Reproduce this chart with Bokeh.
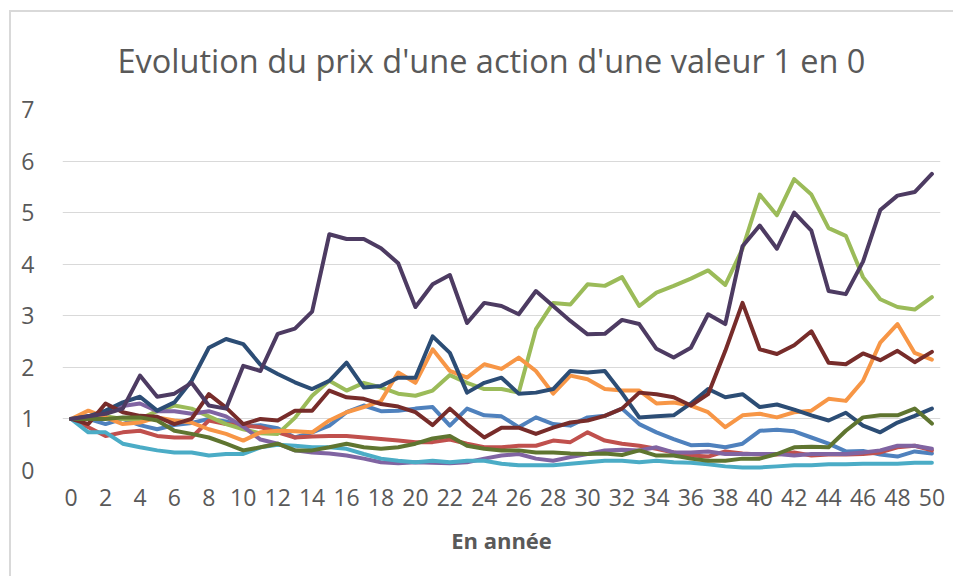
from bokeh.plotting import figure
from bokeh.embed import file_html
from bokeh.resources import INLINE
from bokeh.models import FixedTicker, Range1d

title_text = "Evolution du prix d'une action d'une valeur 1 en 0"
x_label = "En année"
years = list(range(0, 51))
x_ticks = list(range(0, 51, 2))
y_ticks = list(range(0, 8))

s_blue = [1.0, 1.0, 0.9, 1.0, 0.88, 0.8, 0.88, 0.92, 1.0, 0.95, 0.85,
          0.88, 0.82, 0.64, 0.74, 0.87, 1.13, 1.26, 1.15, 1.16, 1.2,
          1.23, 0.87, 1.2, 1.07, 1.05, 0.84, 1.03, 0.9, 0.87, 1.03,
          1.06, 1.2, 0.9, 0.74, 0.61, 0.49, 0.5, 0.45, 0.52, 0.77,
          0.79, 0.76, 0.64, 0.52, 0.37, 0.38, 0.31, 0.27, 0.37, 0.33]
s_red = [1.0, 0.84, 0.67, 0.74, 0.77, 0.67, 0.64, 0.64, 0.97, 0.9, 0.87,
         0.84, 0.74, 0.64, 0.66, 0.67, 0.67, 0.64, 0.61, 0.58, 0.55,
         0.55, 0.6, 0.52, 0.45, 0.45, 0.48, 0.48, 0.58, 0.55, 0.74,
         0.58, 0.52, 0.48, 0.42, 0.35, 0.29, 0.27, 0.37, 0.33, 0.31,
         0.31, 0.35, 0.29, 0.31, 0.31, 0.32, 0.35, 0.45, 0.48, 0.39]
s_green = [1.0, 1.0, 1.05, 1.0, 1.0, 1.15, 1.26, 1.2, 1.05, 0.9, 0.8,
           0.72, 0.71, 1.02, 1.45, 1.74, 1.55, 1.7, 1.61, 1.49, 1.45,
           1.55, 1.85, 1.7, 1.58, 1.58, 1.51, 2.74, 3.25, 3.22, 3.61,
           3.58, 3.75, 3.19, 3.45, 3.58, 3.72, 3.88, 3.6, 4.3, 5.35,
           4.95, 5.65, 5.35, 4.7, 4.55, 3.75, 3.32, 3.17, 3.12, 3.36]
s_purple = [1.0, 1.05, 1.1, 1.25, 1.3, 1.15, 1.15, 1.1, 1.15, 1.05, 0.85,
            0.6, 0.52, 0.39, 0.35, 0.33, 0.29, 0.23, 0.16, 0.14, 0.16,
            0.15, 0.14, 0.16, 0.23, 0.29, 0.32, 0.23, 0.19, 0.26, 0.32,
            0.39, 0.4, 0.39, 0.45, 0.35, 0.35, 0.37, 0.32, 0.32, 0.32,
            0.32, 0.29, 0.32, 0.32, 0.32, 0.35, 0.39, 0.48, 0.48, 0.42]
s_aqua = [1.0, 0.74, 0.74, 0.52, 0.45, 0.39, 0.35, 0.35, 0.29, 0.32, 0.32,
          0.45, 0.5, 0.48, 0.45, 0.45, 0.42, 0.32, 0.23, 0.19, 0.16,
          0.19, 0.16, 0.19, 0.19, 0.13, 0.1, 0.1, 0.1, 0.13, 0.16,
          0.19, 0.19, 0.16, 0.19, 0.16, 0.15, 0.12, 0.08, 0.06, 0.06,
          0.08, 0.1, 0.1, 0.12, 0.12, 0.13, 0.13, 0.13, 0.15, 0.15]
s_orange = [1.0, 1.16, 1.03, 0.9, 0.93, 1.03, 0.97, 0.93, 0.8, 0.71, 0.58,
            0.74, 0.77, 0.76, 0.74, 0.97, 1.13, 1.23, 1.35, 1.9, 1.7,
            2.35, 1.93, 1.8, 2.06, 1.97, 2.19, 1.93, 1.49, 1.84, 1.77,
            1.58, 1.55, 1.55, 1.3, 1.32, 1.26, 1.13, 0.84, 1.07, 1.1,
            1.03, 1.13, 1.16, 1.39, 1.35, 1.74, 2.48, 2.84, 2.28, 2.15]
s_dark_blue = [1.0, 1.05, 1.16, 1.32, 1.43, 1.16, 1.32, 1.74, 2.38, 2.55, 2.45,
               2.05, 1.87, 1.71, 1.58, 1.74, 2.09, 1.61, 1.64, 1.8, 1.8,
               2.6, 2.28, 1.51, 1.7, 1.8, 1.49, 1.51, 1.58, 1.93, 1.9,
               1.93, 1.5, 1.03, 1.05, 1.07, 1.3, 1.58, 1.42, 1.48, 1.23,
               1.28, 1.18, 1.07, 0.97, 1.12, 0.87, 0.74, 0.93, 1.06, 1.2]
s_dark_red = [1.0, 0.9, 1.3, 1.13, 1.06, 1.04, 0.9, 1.0, 1.48, 1.22, 0.9,
              1.0, 0.97, 1.16, 1.16, 1.55, 1.42, 1.39, 1.29, 1.24, 1.13,
              0.88, 1.2, 0.9, 0.64, 0.83, 0.83, 0.71, 0.83, 0.93, 0.97,
              1.06, 1.2, 1.51, 1.48, 1.42, 1.26, 1.48, 2.32, 3.25, 2.35,
              2.26, 2.43, 2.7, 2.09, 2.06, 2.27, 2.14, 2.32, 2.1, 2.3]
s_dark_green = [1.0, 1.0, 1.0, 1.03, 1.03, 0.97, 0.77, 0.71, 0.64, 0.52, 0.39,
                0.45, 0.52, 0.39, 0.39, 0.45, 0.52, 0.45, 0.42, 0.45, 0.52,
                0.62, 0.67, 0.48, 0.42, 0.39, 0.39, 0.35, 0.35, 0.33, 0.32,
                0.33, 0.3, 0.39, 0.29, 0.29, 0.23, 0.19, 0.19, 0.23, 0.23,
                0.32, 0.45, 0.46, 0.45, 0.77, 1.03, 1.07, 1.07, 1.2, 0.91]
s_dark_purple = [1.0, 1.05, 1.1, 1.2, 1.84, 1.43, 1.49, 1.7, 1.26, 1.2, 2.03,
                 1.93, 2.65, 2.75, 3.08, 4.58, 4.49, 4.49, 4.31, 4.02, 3.17,
                 3.61, 3.79, 2.86, 3.25, 3.19, 3.03, 3.48, 3.19, 2.9, 2.64,
                 2.65, 2.92, 2.84, 2.36, 2.19, 2.38, 3.03, 2.84, 4.35, 4.75,
                 4.3, 5.0, 4.65, 3.48, 3.42, 4.05, 5.05, 5.33, 5.4, 5.75]

series = [s_blue, s_red, s_green, s_purple, s_aqua, s_orange,
          s_dark_blue, s_dark_red, s_dark_green, s_dark_purple]
colors = ["#4F81BD", "#C0504D", "#9BBB59", "#8064A2", "#4BACC6", "#F79646",
          "#2C4D75", "#772C2A", "#5F7530", "#4D3B62"]

FONT = "Open Sans"
TXT = "#595959"

p = figure(width=944, height=566, output_backend="svg", toolbar_location=None,
           x_range=Range1d(-0.5, 50.5), y_range=Range1d(0, 7),
           min_border_left=51, min_border_right=15, min_border_top=96,
           min_border_bottom=108)
p.styles = {"border-left": "2px solid #D9D9D9", "border-top": "2px solid #D9D9D9",
            "margin-left": "9px", "margin-top": "10px"}
p.outline_line_color = None
p.background_fill_color = "white"
p.border_fill_color = "white"

p.title.text = title_text
p.title.align = "left"
p.title.offset = 55
p.title.standoff = 50
p.title.vertical_align = "top"
p.title.text_font = FONT
p.title.text_font_size = "32.5px"
p.title.text_font_style = "normal"
p.title.text_color = TXT

for ys, c in zip(series, colors):
    p.line(years, ys, line_color=c, line_width=4, line_join="round", line_cap="round")

p.xgrid.visible = False
p.ygrid.grid_line_color = "#D9D9D9"
p.ygrid.grid_line_width = 1
p.ygrid.ticker = FixedTicker(ticks=y_ticks)

p.xaxis.ticker = FixedTicker(ticks=x_ticks)
p.yaxis.ticker = FixedTicker(ticks=y_ticks)
for ax in (p.xaxis, p.yaxis):
    ax.axis_line_color = None
    ax.major_tick_line_color = None
    ax.minor_tick_line_color = None
    ax.major_label_text_font = FONT
    ax.major_label_text_font_size = "23px"
    ax.major_label_text_color = TXT
p.yaxis.major_label_standoff = 22
p.xaxis.major_label_standoff = 12
p.xaxis.axis_label = x_label
p.xaxis.axis_label_text_font = FONT
p.xaxis.axis_label_text_font_size = "22px"
p.xaxis.axis_label_text_font_style = "bold"
p.xaxis.axis_label_text_color = TXT
p.xaxis.axis_label_standoff = 16

open("out.html", "w").write(file_html(p, INLINE))
